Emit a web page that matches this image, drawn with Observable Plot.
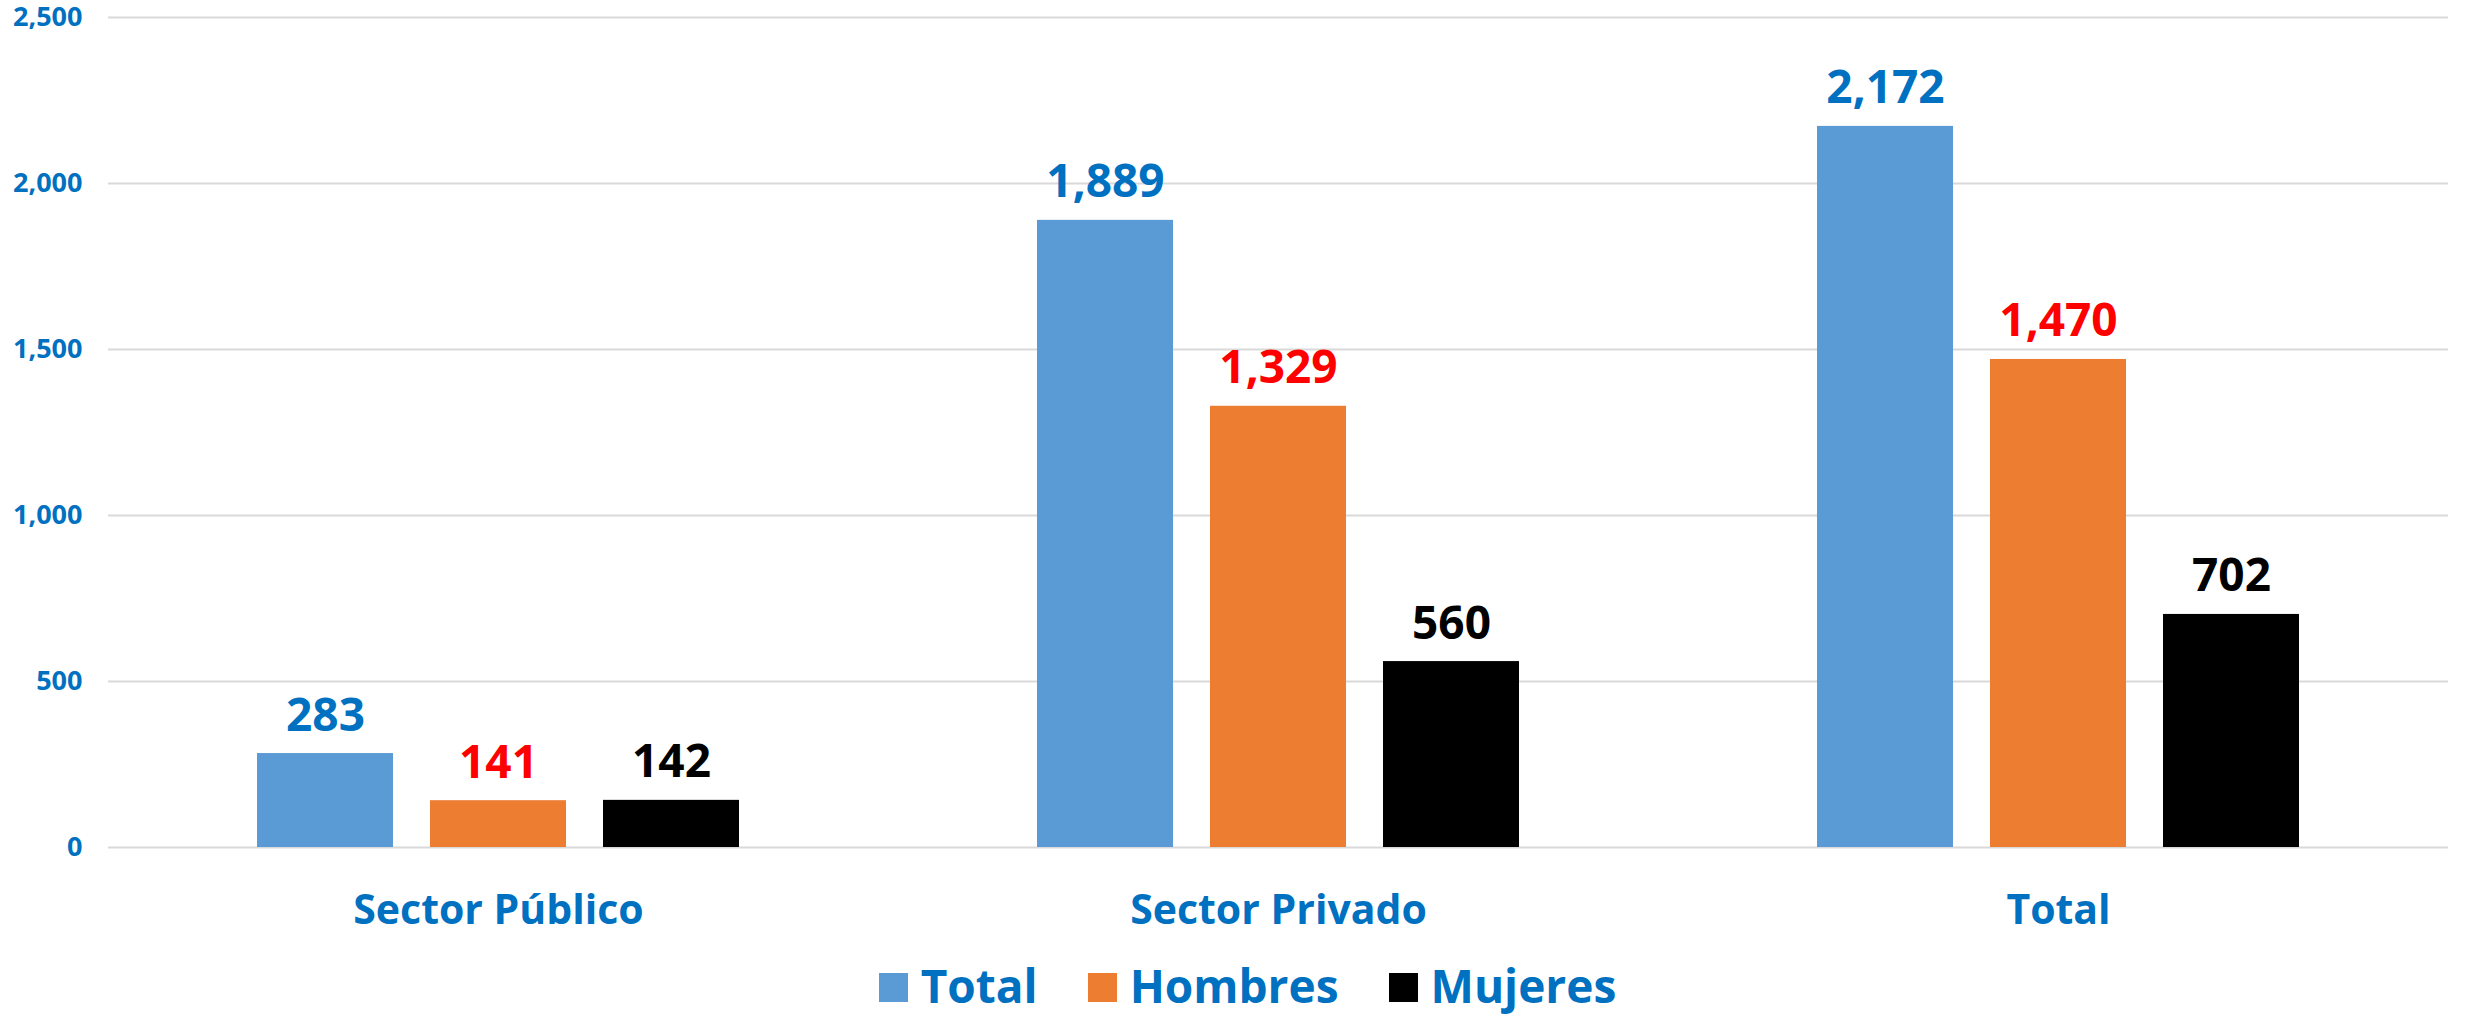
<!DOCTYPE html>
<html>
<head>
<meta charset="utf-8">
<script src="https://cdn.jsdelivr.net/npm/d3@7"></script>
<script src="https://cdn.jsdelivr.net/npm/@observablehq/plot@0.6"></script>
<style>
  html, body { margin: 0; padding: 0; background: #fff; }
  body { width: 2468px; height: 1017px; overflow: hidden; font-family: "Open Sans", sans-serif; }
  #chart svg { display: block; }
  #legend { display: flex; justify-content: center; align-items: center; margin-top: 12px; height: 46px; padding-left: 27px;
            font-family: "Open Sans", sans-serif; font-weight: bold; font-size: 46px; line-height: 46px; color: #0070C0; }
  .item { display: flex; align-items: center; margin: 0 25px; }
  .sw { width: 29px; height: 29px; margin-right: 13px; margin-top: 4px; }
</style>
</head>
<body>
<div id="chart"></div>
<div id="legend"></div>
<script>
const categories = ["Sector Público", "Sector Privado", "Total"];
const series = ["Total", "Hombres", "Mujeres"];
const totalValues = [283, 1889, 2172];
const hombresValues = [141, 1329, 1470];
const mujeresValues = [142, 560, 702];
const yTicks = [0, 500, 1000, 1500, 2000, 2500];
const barColors = ["#5B9BD5", "#ED7D31", "#000000"];
const labelColors = ["#0070C0", "#FF0000", "#000000"];

const seriesValues = [totalValues, hombresValues, mujeresValues];
const data = categories.flatMap((c, i) => series.map((s, j) => ({category: c, series: s, value: seriesValues[j][i]})));
const fmt = d3.format(",");

const chart = Plot.plot({
  width: 2468,
  height: 950,
  marginTop: 17,
  marginBottom: 103,
  marginLeft: 107,
  marginRight: 20,
  style: {fontFamily: "'Open Sans', sans-serif", background: "#fff", overflow: "visible"},
  fx: {domain: categories, padding: 0, label: null, axis: null},
  x: {domain: series, paddingInner: 0.216, paddingOuter: 0.858, axis: null},
  y: {domain: [0, 2500], axis: null},
  color: {domain: series, range: barColors},
  marks: [
    Plot.gridY(yTicks, {stroke: "#d9d9d9", strokeOpacity: 1, strokeWidth: 2}),
    Plot.axisY({ticks: yTicks, tickSize: 0, tickPadding: 26, tickFormat: fmt, fontSize: 27, fontWeight: "bold", fill: "#0070C0", label: null}),
    Plot.axisFx({anchor: "bottom", tickSize: 0, tickPadding: 47, fontSize: 41, fontWeight: "bold", fill: "#0070C0", label: null}),
    Plot.barY(data, {fx: "category", x: "series", y: "value", fill: "series"}),
    ...series.map((s, j) => Plot.text(data.filter(d => d.series === s), {
      fx: "category", x: "series", y: "value", text: d => fmt(d.value),
      dy: -23, lineAnchor: "bottom", fill: labelColors[j], fontSize: 46, fontWeight: "bold"
    }))
  ]
});
document.getElementById("chart").appendChild(chart);

const legend = document.getElementById("legend");
series.forEach((s, j) => {
  const item = document.createElement("div");
  item.className = "item";
  const sw = document.createElement("span");
  sw.className = "sw";
  sw.style.background = barColors[j];
  const t = document.createElement("span");
  t.textContent = s;
  item.appendChild(sw);
  item.appendChild(t);
  legend.appendChild(item);
});
</script>
</body>
</html>
